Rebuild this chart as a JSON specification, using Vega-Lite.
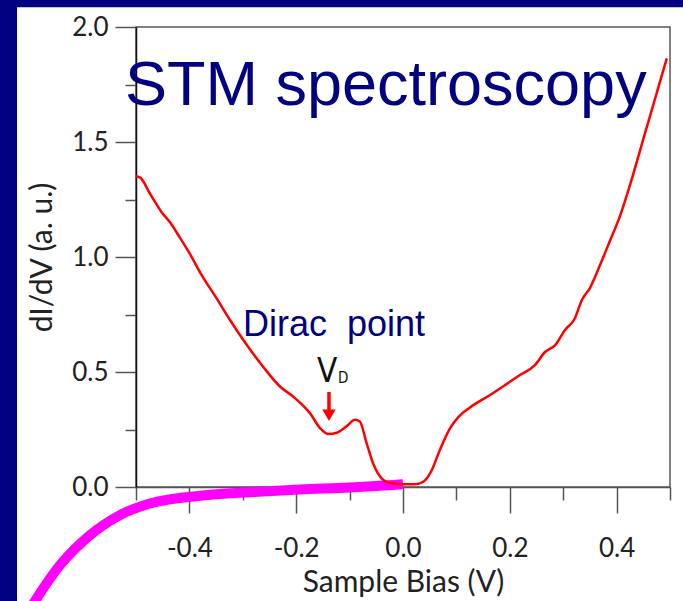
{
  "$schema": "https://vega.github.io/schema/vega-lite/v6.json",
  "width": 534,
  "height": 460,
  "autosize": {"type": "none"},
  "padding": {"left": 136, "top": 27, "right": 13, "bottom": 114},
  "background": "white",
  "config": {
    "view": {"stroke": "#555", "strokeWidth": 1.5},
    "axis": {"grid": false}
  },
  "datasets": {
    "spectrum": [
      {"bias": -0.5, "didv": 1.351},
      {"bias": -0.492, "didv": 1.345},
      {"bias": -0.474, "didv": 1.276},
      {"bias": -0.452, "didv": 1.195},
      {"bias": -0.436, "didv": 1.15},
      {"bias": -0.418, "didv": 1.085},
      {"bias": -0.396, "didv": 1.001},
      {"bias": -0.377, "didv": 0.921},
      {"bias": -0.349, "didv": 0.82},
      {"bias": -0.324, "didv": 0.726},
      {"bias": -0.299, "didv": 0.639},
      {"bias": -0.262, "didv": 0.523},
      {"bias": -0.23, "didv": 0.436},
      {"bias": -0.205, "didv": 0.392},
      {"bias": -0.19, "didv": 0.36},
      {"bias": -0.174, "didv": 0.32},
      {"bias": -0.155, "didv": 0.255},
      {"bias": -0.14, "didv": 0.23},
      {"bias": -0.124, "didv": 0.236},
      {"bias": -0.105, "didv": 0.265},
      {"bias": -0.09, "didv": 0.292},
      {"bias": -0.081, "didv": 0.285},
      {"bias": -0.068, "didv": 0.19},
      {"bias": -0.056, "didv": 0.103},
      {"bias": -0.04, "didv": 0.038},
      {"bias": -0.021, "didv": 0.016},
      {"bias": 0.0, "didv": 0.012},
      {"bias": 0.022, "didv": 0.012},
      {"bias": 0.038, "didv": 0.023},
      {"bias": 0.054, "didv": 0.074},
      {"bias": 0.069, "didv": 0.161},
      {"bias": 0.088, "didv": 0.255},
      {"bias": 0.104, "didv": 0.305},
      {"bias": 0.125, "didv": 0.345},
      {"bias": 0.163, "didv": 0.4},
      {"bias": 0.191, "didv": 0.443},
      {"bias": 0.219, "didv": 0.487},
      {"bias": 0.247, "didv": 0.53},
      {"bias": 0.266, "didv": 0.587},
      {"bias": 0.285, "didv": 0.617},
      {"bias": 0.303, "didv": 0.682},
      {"bias": 0.322, "didv": 0.734},
      {"bias": 0.335, "didv": 0.813},
      {"bias": 0.35, "didv": 0.865},
      {"bias": 0.369, "didv": 0.965},
      {"bias": 0.388, "didv": 1.073},
      {"bias": 0.407, "didv": 1.182},
      {"bias": 0.425, "didv": 1.312},
      {"bias": 0.444, "didv": 1.464},
      {"bias": 0.463, "didv": 1.616},
      {"bias": 0.482, "didv": 1.768},
      {"bias": 0.494, "didv": 1.864}
    ],
    "iv": [
      {"bias": -0.717, "current": -0.6},
      {"bias": -0.689, "current": -0.495},
      {"bias": -0.642, "current": -0.339},
      {"bias": -0.586, "current": -0.209},
      {"bias": -0.53, "current": -0.122},
      {"bias": -0.474, "current": -0.072},
      {"bias": -0.38, "current": -0.038},
      {"bias": -0.281, "current": -0.022},
      {"bias": -0.193, "current": -0.011},
      {"bias": -0.099, "current": -0.002},
      {"bias": -0.019, "current": 0.009},
      {"bias": 0.0, "current": 0.012}
    ]
  },
  "resolve": {"axis": {"x": "independent", "y": "independent"}},
  "layer": [
    {
      "data": {"values": [{}]},
      "mark": {"type": "rect", "color": "#000080", "clip": false},
      "encoding": {
        "x": {"datum": -0.8, "type": "quantitative", "scale": {"domain": [-0.5, 0.5], "nice": false, "zero": false}, "axis": null},
        "x2": {"datum": -0.7228},
        "y": {"datum": 2.3, "type": "quantitative", "scale": {"domain": [0, 2], "nice": false, "zero": false}, "axis": null},
        "y2": {"datum": -0.7}
      }
    },
    {
      "data": {"values": [{}]},
      "mark": {"type": "rect", "color": "#000080", "clip": false},
      "encoding": {
        "x": {"datum": -0.8, "type": "quantitative", "scale": {"domain": [-0.5, 0.5], "nice": false, "zero": false}, "axis": null},
        "x2": {"datum": 0.6},
        "y": {"datum": 2.3, "type": "quantitative", "scale": {"domain": [0, 2], "nice": false, "zero": false}, "axis": null},
        "y2": {"datum": 2.0856}
      }
    },
    {
      "data": {"name": "iv"},
      "mark": {"type": "line", "color": "#ff00ff", "strokeWidth": 10, "strokeCap": "butt", "interpolate": "monotone", "clip": false},
      "encoding": {
        "x": {
          "field": "bias", "type": "quantitative",
          "scale": {"domain": [-0.5, 0.5], "nice": false, "zero": false},
          "axis": {"orient": "bottom", "values": [-0.5, -0.3, -0.1, 0.1, 0.3, 0.5], "tickSize": 13, "tickWidth": 1.5, "tickColor": "#555", "labels": false, "domain": false, "title": null}
        },
        "y": {
          "field": "current", "type": "quantitative",
          "scale": {"domain": [0, 2], "nice": false, "zero": false},
          "axis": {"orient": "left", "values": [0.25, 0.75, 1.25, 1.75], "tickSize": 11, "tickWidth": 1.5, "tickColor": "#555", "labels": false, "domain": false, "title": null}
        }
      }
    },
    {
      "data": {"name": "spectrum"},
      "mark": {"type": "line", "color": "#ff0000", "strokeWidth": 2.5, "interpolate": "monotone", "clip": false},
      "encoding": {
        "x": {
          "field": "bias", "type": "quantitative",
          "scale": {"domain": [-0.5, 0.5], "nice": false, "zero": false},
          "axis": {
            "orient": "bottom", "values": [-0.4, -0.2, 0, 0.2, 0.4],
            "labelExpr": "replace(format(datum.value, '.1f'), '\u2212', '-')",
            "tickSize": 26, "tickWidth": 1.5, "tickColor": "#555",
            "domainColor": "#555", "domainWidth": 1.5,
            "labelFont": "Lato", "labelFontSize": 26, "labelColor": "#222", "labelPadding": 22,
            "title": "Sample Bias (V)", "titleFont": "Lato", "titleFontSize": 30, "titleFontWeight": "normal", "titleColor": "#222", "titlePadding": 6
          }
        },
        "y": {
          "field": "didv", "type": "quantitative",
          "scale": {"domain": [0, 2], "nice": false, "zero": false},
          "axis": {
            "orient": "left", "values": [0, 0.5, 1, 1.5, 2], "format": ".1f",
            "tickSize": 21, "tickWidth": 1.5, "tickColor": "#555",
            "domainColor": "#111", "domainWidth": 1.5,
            "labelFont": "Lato", "labelFontSize": 26, "labelColor": "#222", "labelPadding": 7,
            "title": "dI/dV (a. u.)", "titleFont": "Lato", "titleFontSize": 30, "titleFontWeight": "normal", "titleColor": "#222", "titlePadding": 14
          }
        }
      }
    },
    {
      "data": {"values": [{}]},
      "mark": {"type": "text", "text": "STM spectroscopy", "font": "Liberation Sans", "fontSize": 63, "color": "#000080", "align": "left", "baseline": "alphabetic", "clip": false},
      "encoding": {
        "x": {"datum": -0.5206, "type": "quantitative", "scale": {"domain": [-0.5, 0.5], "nice": false, "zero": false}, "axis": null},
        "y": {"datum": 1.66, "type": "quantitative", "scale": {"domain": [0, 2], "nice": false, "zero": false}, "axis": null}
      }
    },
    {
      "data": {"values": [{}]},
      "mark": {"type": "text", "text": "Dirac\u00a0 point", "font": "Liberation Sans", "fontSize": 36, "color": "#000080", "align": "left", "baseline": "alphabetic", "clip": false},
      "encoding": {
        "x": {"datum": -0.2996, "type": "quantitative", "scale": {"domain": [-0.5, 0.5], "nice": false, "zero": false}, "axis": null},
        "y": {"datum": 0.656, "type": "quantitative", "scale": {"domain": [0, 2], "nice": false, "zero": false}, "axis": null}
      }
    },
    {
      "data": {"values": [{}]},
      "mark": {"type": "text", "text": "V", "font": "Liberation Sans Narrow, DejaVu Sans Condensed, sans-serif", "fontSize": 33, "color": "#111", "align": "left", "baseline": "alphabetic", "clip": false},
      "encoding": {
        "x": {"datum": -0.1611, "type": "quantitative", "scale": {"domain": [-0.5, 0.5], "nice": false, "zero": false}, "axis": null},
        "y": {"datum": 0.456, "type": "quantitative", "scale": {"domain": [0, 2], "nice": false, "zero": false}, "axis": null}
      }
    },
    {
      "data": {"values": [{}]},
      "mark": {"type": "text", "text": "D", "font": "Liberation Sans Narrow, DejaVu Sans Condensed, sans-serif", "fontSize": 15, "color": "#111", "align": "left", "baseline": "alphabetic", "clip": false},
      "encoding": {
        "x": {"datum": -0.1215, "type": "quantitative", "scale": {"domain": [-0.5, 0.5], "nice": false, "zero": false}, "axis": null},
        "y": {"datum": 0.452, "type": "quantitative", "scale": {"domain": [0, 2], "nice": false, "zero": false}, "axis": null}
      }
    },
    {
      "data": {"values": [{}]},
      "mark": {"type": "rule", "color": "#ff0000", "strokeWidth": 3.5, "clip": false},
      "encoding": {
        "x": {"datum": -0.1386, "type": "quantitative", "scale": {"domain": [-0.5, 0.5], "nice": false, "zero": false}, "axis": null},
        "y": {"datum": 0.413, "type": "quantitative", "scale": {"domain": [0, 2], "nice": false, "zero": false}, "axis": null},
        "y2": {"datum": 0.33}
      }
    },
    {
      "data": {"values": [{}]},
      "mark": {"type": "point", "shape": "triangle-down", "filled": true, "color": "#ff0000", "size": 180, "opacity": 1, "clip": false},
      "encoding": {
        "x": {"datum": -0.1386, "type": "quantitative", "scale": {"domain": [-0.5, 0.5], "nice": false, "zero": false}, "axis": null},
        "y": {"datum": 0.312, "type": "quantitative", "scale": {"domain": [0, 2], "nice": false, "zero": false}, "axis": null}
      }
    }
  ]
}
